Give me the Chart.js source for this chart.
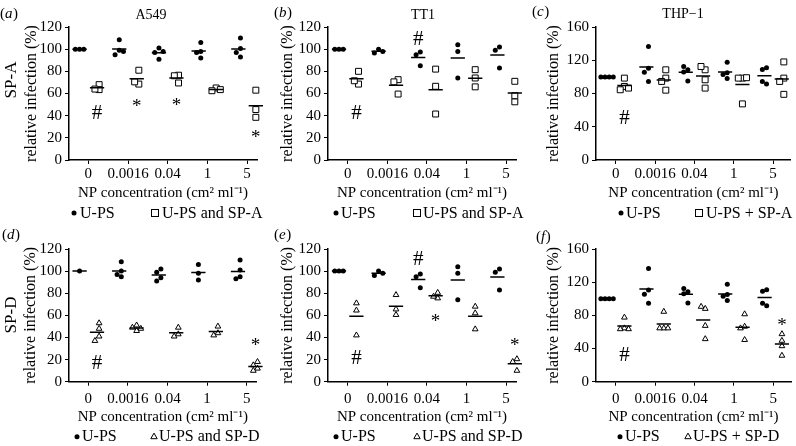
<!DOCTYPE html>
<html><head><meta charset="utf-8">
<script src="https://cdn.jsdelivr.net/npm/chart.js@4.4.1/dist/chart.umd.min.js"></script>
<style>
html,body{margin:0;padding:0;background:#fff;width:796px;height:446px;overflow:hidden;position:relative}
canvas{position:absolute}
</style></head><body>
<script>
// ---------- data ----------
const categories = ['0', '0.0016', '0.04', '1', '5'];
const xTitle = 'NP concentration (cm\u00B2 ml\u207B\u00B9)';
const yTitle = 'relative infection (%)';

// (a) A549, SP-A
const a549_UPS = [[100,100,100],[108.5,99,95,98],[101,91,97,98],[106,98,92,97],[110,93,100.5,97]];
const a549_SPA = [[68,63.5,64],[81,68.5,70.5],[76.5,76,69.5],[65,62.5,63.5],[63,45.5,38.5]];
const a549_SPA_marks = [[0,'t',43,'#'],[1,'t',52,'*'],[2,'t',53,'*'],[4,'t',23.5,'*']];

// (b) TT1, SP-A
const tt1_UPS = [[100,100,100],[100,96.5,98],[97.5,95,85],[104,98,74],[102,99,83]];
const tt1_SPA = [[80,68.5,71.5],[72.5,70.5,59.5],[82,66.5,41.5],[81.5,74,66],[71,52.5,58]];
const tt1_SPA_marks = [[0,'t',43,'#'],[2,'u',110,'#']];

// (c) THP-1, SP-A
const thp1_UPS = [[100,100,100,100],[136.5,110.5,105.5,94.5],[108.5,112.5,106,95],[117.5,105,103,98],[111,109,91.5,94.5]];
const thp1_SPA = [[98.5,88.5,84.5,86.5],[108.5,98.5,94.5,84],[108.5,112.5,96.5,86.5],[98.5,98.5,99,67.5],[118,98.5,94.5,79]];
const thp1_SPA_marks = [[0,'t',52,'#']];

// (d) A549, SP-D
const a549_UPS_d = [[100],[108.5,100,97,95],[102,99,94,91],[106,98,92],[110,101,95,93]];
const a549_SPD = [[53,48,41,37],[51,49,48,46],[49,43,41],[50,44,42],[18,15,12,10]];
const a549_SPD_marks = [[0,'t',17.5,'#'],[4,'t',36,'*']];

// (e) TT1, SP-D
const tt1_UPS_e = [[100,100,100],[100,96,98],[97.5,95,85],[104,98,74],[102,99,83]];
const tt1_SPD = [[71,64.5,42],[78.5,60.5,65.5],[80.5,75.5,77],[68,62,47.5],[20.5,18,10]];
const tt1_SPD_marks = [[0,'t',22.5,'#'],[2,'u',112,'#'],[2,'t',58,'*'],[4,'t',36,'*']];

// (f) THP-1, SP-D
const thp1_UPS_f = [[100,100,100,100],[136.5,110.5,105.5,94.5],[108.5,112.5,106,95],[117.5,105,103,98],[111,109,91.5,94.5]];
const thp1_SPD = [[77.5,64.5,63.5,63.5],[84.5,64.5,64.5,64.5],[88,90.5,67.5,51.5],[81.5,66.5,64.5,50.5],[57.5,49.5,43,31.5]];
const thp1_SPD_marks = [[0,'t',34,'#'],[4,'t',73,'*']];

// ---------- layout ----------
const SERIF = "'Liberation Serif','Times New Roman',serif";
const GROUP_OFF = 0.22;   // category units
const HALF_LINE = 0.18;
const TICK_FONT = 15, AXIS_TITLE_FONT_X = 15, AXIS_TITLE_FONT_Y = 16, LEGEND_FONT = 16;

const panels = [
  {pos:[0,0,265,222], bottom:160, axisLeft:69, firstTick:88.3, spacing:39.7, xmax:4.25, yMax:120, yStep:20, yTitleX:32, xTickPad:1,
   ups:a549_UPS, trt:a549_SPA, marks:a549_SPA_marks, shape:'rect', title:'A549', titleX:151, titleY:15, tag:'a', tagX:0, tagY:14,
   side:'SP-A', sideX:12, sideY:80, leg:{y:213, c:74, ct:80, m:155, mt:162, text:'U-PS and SP-A'}},
  {pos:[265,0,265,222], bottom:160, axisLeft:63, firstTick:82.7, spacing:39.6, xmax:4.25, yMax:120, yStep:20, yTitleX:23, xTickPad:1,
   ups:tt1_UPS, trt:tt1_SPA, marks:tt1_SPA_marks, shape:'rect', title:'TT1', titleX:158, titleY:15, tag:'b', tagX:9, tagY:13,
   side:null, leg:{y:213, c:71, ct:76, m:152, mt:158, text:'U-PS and SP-A'}},
  {pos:[530,0,266,222], bottom:160, axisLeft:66, firstTick:86, spacing:39.9, xmax:4.45, yMax:160, yStep:40, yTitleX:24, xTickPad:1,
   ups:thp1_UPS, trt:thp1_SPA, marks:thp1_SPA_marks, shape:'rect', title:'THP\u22121', titleX:153, titleY:14, tag:'c', tagX:2, tagY:12,
   side:null, leg:{y:213, c:91, ct:96, m:169, mt:176, text:'U-PS + SP-A'}},
  {pos:[0,222,265,224], bottom:159.7, axisLeft:69, firstTick:88.3, spacing:39.6, xmax:4.25, yMax:120, yStep:20, yTitleX:31, xTickPad:4,
   ups:a549_UPS_d, trt:a549_SPD, marks:a549_SPD_marks, shape:'triangle', title:null, tag:'d', tagX:2, tagY:13,
   side:'SP-D', sideX:12, sideY:93, leg:{y:214.7, c:77, ct:82, m:154, mt:159, text:'U-PS and SP-D'}},
  {pos:[265,222,265,224], bottom:159.7, axisLeft:63, firstTick:82.7, spacing:39.6, xmax:4.25, yMax:120, yStep:20, yTitleX:23, xTickPad:4,
   ups:tt1_UPS_e, trt:tt1_SPD, marks:tt1_SPD_marks, shape:'triangle', title:null, tag:'e', tagX:9, tagY:13,
   side:null, leg:{y:214.7, c:71, ct:76, m:152, mt:157, text:'U-PS and SP-D'}},
  {pos:[530,222,266,224], bottom:159.7, axisLeft:66, firstTick:86, spacing:39.9, xmax:4.45, yMax:160, yStep:40, yTitleX:24, xTickPad:4,
   ups:thp1_UPS_f, trt:thp1_SPD, marks:thp1_SPD_marks, shape:'triangle', title:null, tag:'f', tagX:6, tagY:15,
   side:null, leg:{y:214.7, c:90, ct:95, m:158, mt:163, text:'U-PS + SP-D'}}
];

// simple beeswarm offsets (px) for one group
function swarm(vals, pxPerUnit) {
  const D = 4.2, R = 4.6, placed = [], out = [];
  const cands = [0,-1,1,-2,2,-3,3];
  vals.forEach(v => {
    const yp = v * pxPerUnit;
    for (const c of cands) {
      const x = c * D;
      if (placed.every(p => Math.abs(p.x - x) >= D * 0.9 || Math.abs(p.y - yp) >= R)) {
        placed.push({x, y: yp}); out.push(x); break;
      }
    }
  });
  const sh = (Math.min(...out) + Math.max(...out)) / 2;
  return out.map(o => o - sh);
}
function groupPoints(groups, side, pxPerUnit, spacing) {
  const pts = [];
  groups.forEach((vals, ci) => {
    const offs = swarm(vals, pxPerUnit);
    vals.forEach((v, k) => pts.push({x: ci + side * GROUP_OFF + offs[k] / spacing, y: v}));
  });
  return pts;
}
function meanLine(groups, side) {
  const pts = [];
  groups.forEach((vals, ci) => {
    const m = vals.reduce((a, b) => a + b, 0) / vals.length;
    const c = ci + side * GROUP_OFF;
    pts.push({x: c - HALF_LINE, y: m}, {x: c + HALF_LINE, y: m}, {x: c + HALF_LINE, y: null});
  });
  return pts;
}

function drawMarker(ctx, shape, x, y) {
  ctx.save();
  ctx.strokeStyle = '#000'; ctx.fillStyle = '#000'; ctx.lineWidth = 1;
  if (shape === 'circle') { ctx.beginPath(); ctx.arc(x, y, 2.5, 0, Math.PI * 2); ctx.fill(); }
  else if (shape === 'rect') { ctx.fillStyle = '#fff'; ctx.fillRect(x - 3.5, y - 3.5, 7, 7); ctx.strokeRect(x - 3.5, y - 3.5, 7, 7); }
  else { ctx.beginPath(); ctx.moveTo(x, y - 3.6); ctx.lineTo(x + 3.2, y + 2); ctx.lineTo(x - 3.2, y + 2); ctx.closePath(); ctx.stroke(); }
  ctx.restore();
}

function makePlugin(P) {
  return {
    id: 'panelText',
    afterDraw(chart) {
      const ctx = chart.ctx, xs = chart.scales.x, ys = chart.scales.y;
      ctx.save();
      ctx.fillStyle = '#000';
      // significance marks
      P.marks.forEach(([ci, side, v, sym]) => {
        const x = xs.getPixelForValue(ci + (side === 'u' ? -1 : 1) * GROUP_OFF);
        const y = ys.getPixelForValue(v);
        const size = sym === '#' ? 21 : 19;
        ctx.font = size + 'px ' + SERIF;
        ctx.textAlign = 'center'; ctx.textBaseline = 'alphabetic';
        ctx.fillText(sym, x, y + (sym === '#' ? 0.34 : 0.5) * size);
      });
      // title
      ctx.textBaseline = 'middle';
      if (P.title) {
        ctx.font = '14px ' + SERIF; ctx.textAlign = 'center';
        ctx.fillText(P.title, P.titleX, P.titleY);
      }
      // panel tag (x)
      ctx.textAlign = 'left';
      let tx = P.tagX;
      ctx.font = '15px ' + SERIF; ctx.fillText('(', tx, P.tagY); tx += ctx.measureText('(').width;
      ctx.font = 'italic 15px ' + SERIF; ctx.fillText(P.tag, tx, P.tagY); tx += ctx.measureText(P.tag).width + 0.5;
      ctx.font = '15px ' + SERIF; ctx.fillText(')', tx, P.tagY);
      // row label
      if (P.side) {
        ctx.save(); ctx.translate(P.sideX, P.sideY); ctx.rotate(-Math.PI / 2);
        ctx.font = '17px ' + SERIF; ctx.textAlign = 'center';
        ctx.fillText(P.side, 0, 0); ctx.restore();
      }
      // legend
      const L = P.leg;
      drawMarker(ctx, 'circle', L.c, L.y);
      drawMarker(ctx, P.shape, L.m, L.y);
      ctx.fillStyle = '#000'; ctx.font = LEGEND_FONT + 'px ' + SERIF; ctx.textAlign = 'left'; ctx.textBaseline = 'middle';
      ctx.fillText('U-PS', L.ct, L.y + 0.5);
      ctx.fillText(L.text, L.mt, L.y + 0.5);
      ctx.restore();
    }
  };
}

panels.forEach(P => {
  const [left, top, w, h] = P.pos;
  const cv = document.createElement('canvas');
  cv.width = w; cv.height = h;
  cv.style.left = left + 'px'; cv.style.top = top + 'px';
  cv.style.width = w + 'px'; cv.style.height = h + 'px';
  document.body.appendChild(cv);

  const chartTop = 27;
  const plotH = P.bottom - chartTop;
  const pxPerUnit = plotH / P.yMax;
  const xmin = -(P.firstTick - P.axisLeft) / P.spacing;
  const padRight = w - (P.axisLeft + (P.xmax - xmin) * P.spacing);
  const xAxisH = h - P.bottom;
  const titleTarget = P.bottom + (h === 222 ? 33 : 35.3);
  const xTitlePadB = h - titleTarget - AXIS_TITLE_FONT_X * 0.6;
  const yTitlePadT = P.yTitleX - AXIS_TITLE_FONT_Y * 0.6;

  const lineDs = (data) => ({type: 'scatter', data, showLine: true, spanGaps: false, pointRadius: 0,
    borderColor: '#000', borderWidth: 1.5, clip: false});

  new Chart(cv.getContext('2d'), {
    type: 'scatter',
    data: {
      datasets: [
        lineDs(meanLine(P.ups, -1)),
        lineDs(meanLine(P.trt, 1)),
        {data: groupPoints(P.ups, -1, pxPerUnit, P.spacing), pointStyle: 'circle', pointRadius: 2.5,
         backgroundColor: '#000', borderColor: '#000', borderWidth: 0, clip: false},
        {data: groupPoints(P.trt, 1, pxPerUnit, P.spacing), pointStyle: P.shape,
         pointRadius: P.shape === 'rect' ? 4.2 : 3.3,
         backgroundColor: '#fff', borderColor: '#000', borderWidth: 1, clip: false}
      ]
    },
    options: {
      responsive: false, animation: false, events: [],
      layout: {padding: {left: 0, top: chartTop, right: padRight, bottom: 0}},
      plugins: {legend: {display: false}, tooltip: {enabled: false}, title: {display: false}},
      scales: {
        x: {
          type: 'linear', min: xmin, max: P.xmax,
          afterBuildTicks: s => { s.ticks = categories.map((_, i) => ({value: i})); },
          afterFit: s => { s.height = xAxisH; },
          ticks: {callback: (v, i) => categories[i], font: {family: SERIF, size: TICK_FONT}, color: '#000',
                  padding: P.xTickPad, maxRotation: 0, autoSkip: false},
          grid: {display: true, drawOnChartArea: false, drawTicks: true, tickLength: 4, color: '#000', lineWidth: 1},
          border: {display: true, color: '#000', width: 1.5},
          title: {display: true, text: xTitle, font: {family: SERIF, size: AXIS_TITLE_FONT_X}, color: '#000',
                  padding: {top: 0, bottom: xTitlePadB}}
        },
        y: {
          min: 0, max: P.yMax,
          afterFit: s => { s.width = P.axisLeft; },
          ticks: {stepSize: P.yStep, font: {family: SERIF, size: TICK_FONT}, color: '#000', padding: 3},
          grid: {display: true, drawOnChartArea: false, drawTicks: true, tickLength: 4, color: '#000', lineWidth: 1},
          border: {display: true, color: '#000', width: 1.5},
          title: {display: true, text: yTitle, font: {family: SERIF, size: AXIS_TITLE_FONT_Y}, color: '#000',
                  padding: {top: yTitlePadT, bottom: 0}}
        }
      }
    },
    plugins: [makePlugin(P)]
  });
});
</script>
</body></html>
